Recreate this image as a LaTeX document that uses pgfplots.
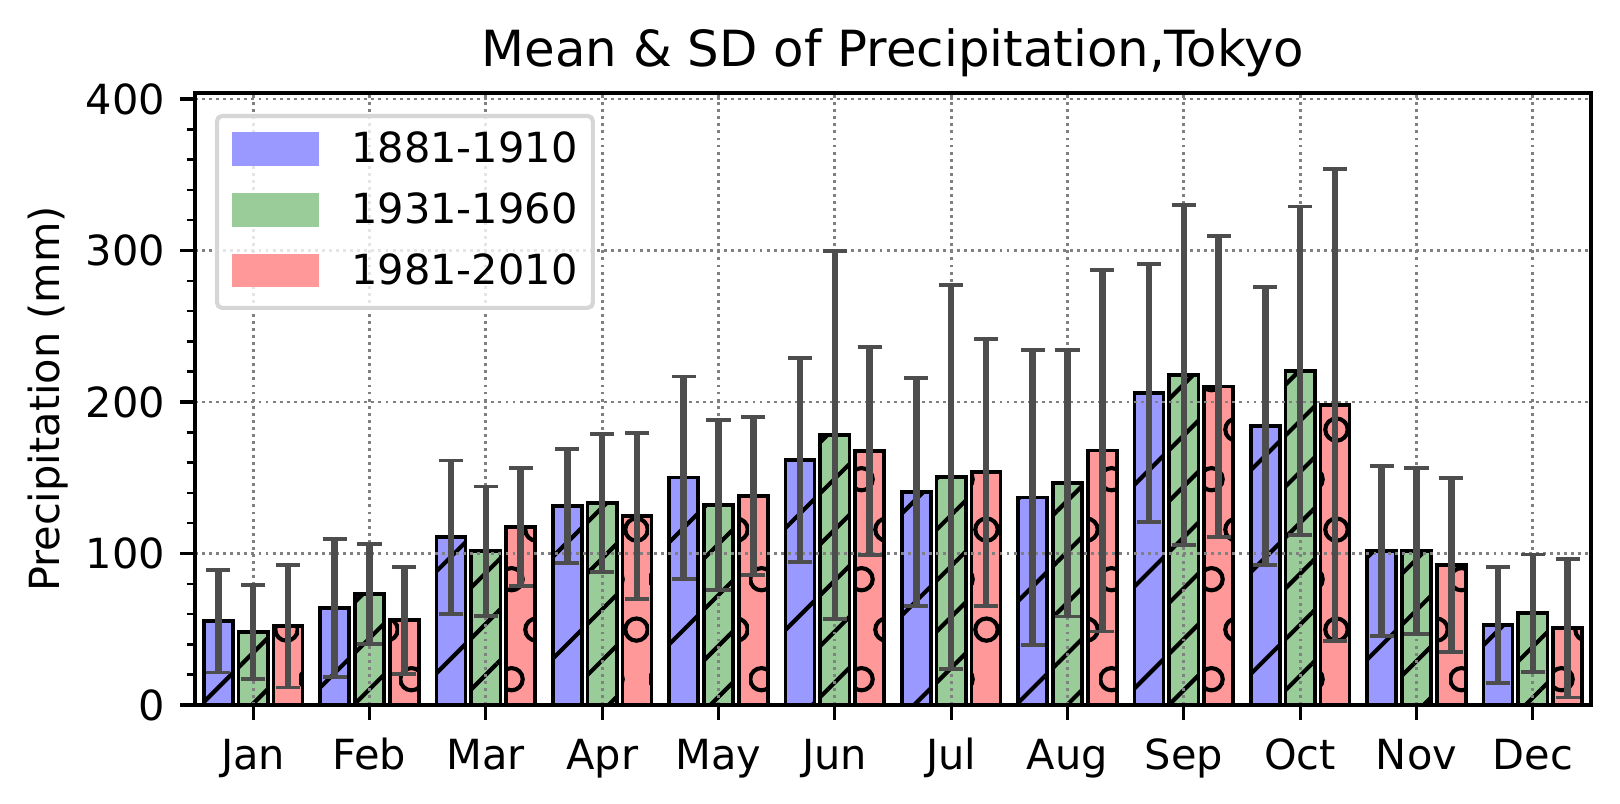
\documentclass[border=0pt]{standalone}
\usepackage{pgfplots}
\usepackage{pgfplotstable}
\pgfplotsset{compat=1.18}
\usepackage{fontspec}
\setmainfont{DejaVu Sans}
\usetikzlibrary{patterns.meta}

\definecolor{cB}{RGB}{153,153,255}
\definecolor{cG}{RGB}{153,204,153}
\definecolor{cR}{RGB}{255,153,153}
\definecolor{eb}{RGB}{77,77,77}
\definecolor{lgframe}{RGB}{214,214,214}

\pgfplotsset{
  layers/barsbelowgrid/.define layer set={axis background, pre main, axis grid, main, axis ticks, axis lines, axis tick labels, axis descriptions, axis foreground}{},
}

\tikzdeclarepattern{
  name=hcircles,
  type=uncolored,
  bounding box={(0,0) and (4.233mm,8.467mm)},
  tile size={(4.233mm,8.467mm)},
  code={
    \draw[line width=1pt] (1.058mm,2.117mm) circle (0.95mm);
    \draw[line width=1pt] (3.175mm,6.350mm) circle (0.95mm);
  }
}

\pgfplotstableread{
m b bs g gs r rs
0 55.3 33.9 48.0 31.0 52.0 40.5
1 63.9 45.5 73.3 33.2 56.0 35.3
2 110.8 50.5 101.6 42.7 117.5 39.0
3 131.3 37.6 133.4 45.7 124.8 54.8
4 150.1 66.8 132.0 56.2 138.0 52.0
5 161.7 67.2 178.4 121.5 167.7 68.5
6 140.7 75.2 150.4 126.7 153.6 88.1
7 136.9 97.5 146.4 88.0 167.9 119.3
8 205.9 85.0 217.8 112.2 210.2 99.2
9 184.1 91.7 220.5 108.5 198.1 155.8
10 101.6 56.0 101.6 54.8 92.5 57.5
11 52.6 38.3 60.6 38.7 50.7 45.8
}\data

\begin{document}
\begin{tikzpicture}
\begin{axis}[
  set layers=barsbelowgrid,
  at={(0,0)}, anchor=south west,
  scale only axis,
  width=118.19mm, height=51.82mm,
  xmin=-0.5, xmax=11.5, ymin=0, ymax=404,
  xtick={0,...,11},
  xticklabels={Jan,Feb,Mar,Apr,May,Jun,Jul,Aug,Sep,Oct,Nov,Dec},
  ytick={0,100,200,300,400},
  minor y tick num=4,
  tick pos=left,
  tick align=outside,
  major tick length=1.23mm,
  minor tick length=0.7mm,
  major tick style={line width=0.8pt, black},
  minor tick style={line width=0.6pt, black},
  axis line style={line width=0.8pt},
  grid=major,
  major grid style={gray, line width=0.7pt, dash pattern=on 0.7pt off 1pt},
  /pgf/number format/assume math mode=true,
  ticklabel style={font=\fontsize{10}{12}\selectfont, inner sep=0pt},
  xticklabel style={anchor=base, yshift=-4.25mm},
  yticklabel style={anchor=east, xshift=-1.25mm},
  ylabel={Precipitation (mm)},
  every axis y label/.style={at={([xshift=-12.4mm]axis description cs:0,0.5)}, rotate=90, anchor=center, font=\fontsize{10}{12}\selectfont, inner sep=0pt},
  title={Mean \& SD of Precipitation,Tokyo},
  every axis title/.style={at={(axis description cs:0.5,1)}, anchor=base, yshift=2.2mm, font=\fontsize{12}{14}\selectfont, inner sep=0pt},
  legend style={
    at={([xshift=1.69mm,yshift=-1.78mm]axis description cs:0,1)}, anchor=north west,
    draw=lgframe, line width=1pt, rounded corners=1.2pt, fill=white, fill opacity=0.8, text opacity=1,
    inner xsep=1.3mm, inner ysep=0.75mm,
    row sep=0.71mm,
    nodes={inner sep=0pt, text height=3.2mm, text depth=1.24mm},
    font=\fontsize{10}{12}\selectfont,
    /tikz/every odd column/.append style={column sep=2.77mm},
  },
  legend cell align=left,
]
\addlegendimage{legend image code/.code={\fill[cB, sharp corners, fill opacity=1] (0mm,-1.06mm) rectangle (6.94mm,1.40mm);}}
\addlegendentry{1881-1910}
\addlegendimage{legend image code/.code={\fill[cG, sharp corners, fill opacity=1] (0mm,-1.06mm) rectangle (6.94mm,1.40mm);}}
\addlegendentry{1931-1960}
\addlegendimage{legend image code/.code={\fill[cR, sharp corners, fill opacity=1] (0mm,-1.06mm) rectangle (6.94mm,1.40mm);}}
\addlegendentry{1981-2010}

\addplot[forget plot, on layer=pre main, ybar, bar width=0.25, bar shift=0pt, draw=black, line width=0.9pt,
  preaction={fill=cB}, pattern={Lines[angle=45,distance=6.1mm,line width=1pt]}, pattern color=black]
  table[x expr=\thisrow{m}-0.3, y=b] {\data};
\addplot[forget plot, on layer=pre main, ybar, bar width=0.25, bar shift=0pt, draw=black, line width=0.9pt,
  preaction={fill=cG}, pattern={Lines[angle=45,distance=3.05mm,line width=1pt]}, pattern color=black]
  table[x=m, y=g] {\data};
\addplot[forget plot, on layer=pre main, ybar, bar width=0.25, bar shift=0pt, draw=black, line width=0.9pt,
  preaction={fill=cR}, pattern=hcircles, pattern color=black]
  table[x expr=\thisrow{m}+0.3, y=r] {\data};

\pgfplotsset{ebstyle/.style={forget plot, draw=none, mark=none,
  error bars/.cd, y dir=both, y explicit,
  error bar style={draw=eb, solid, line width=1.6pt},
  error mark options={draw=eb, solid, line width=0.9pt, mark size=2.9pt, rotate=90}}}
\addplot[ebstyle] table[x expr=\thisrow{m}-0.3, y=b, y error=bs] {\data};
\addplot[ebstyle] table[x=m, y=g, y error=gs] {\data};
\addplot[ebstyle] table[x expr=\thisrow{m}+0.3, y=r, y error=rs] {\data};
\end{axis}
\path[use as bounding box] (-16.51mm,-8.38mm) rectangle (120.645mm,59.69mm);
\end{tikzpicture}
\end{document}
